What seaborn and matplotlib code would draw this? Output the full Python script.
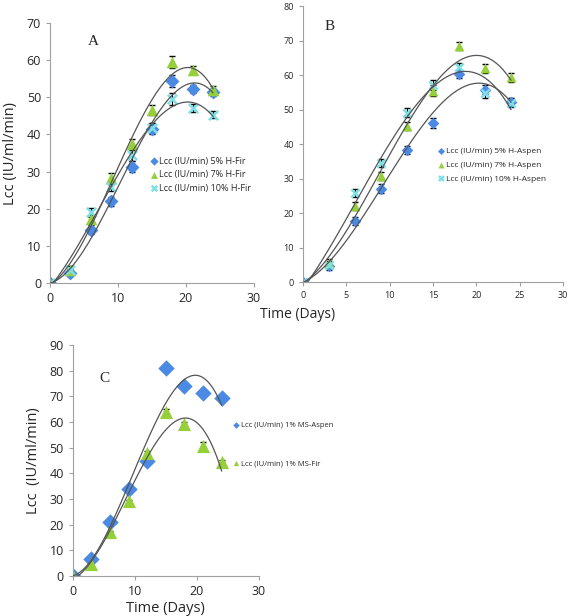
import numpy as np
import pandas as pd
import matplotlib
matplotlib.use("Agg")
import matplotlib.pyplot as plt
import seaborn as sns

sns.set_style("white")
plt.rcParams['font.family'] = ['Open Sans', 'DejaVu Sans']

# Данные (дни и активность Lcc)
days = [0, 3, 6, 9, 12, 15, 18, 21, 24]

# Панель A: H-Fir
a_5 = [0, 2.8, 14.4, 22.0, 31.3, 41.6, 54.4, 52.2, 51.3]
a_7 = [0, 3.5, 17.1, 28.4, 37.4, 46.6, 59.4, 57.4, 52.0]
a_10 = [0, 3.5, 19.1, 25.9, 34.4, 41.7, 49.5, 47.1, 45.3]
a_err = [0.5, 1.0, 1.2, 1.2, 1.5, 1.4, 1.6, 1.0, 1.0]

# Панель B: H-Aspen
b_5 = [0, 4.6, 17.6, 27.1, 38.3, 46.0, 60.3, 55.7, 52.2]
b_7 = [0, 5.6, 22.0, 30.8, 45.2, 55.5, 68.4, 62.0, 59.3]
b_10 = [0, 5.0, 25.9, 34.4, 49.1, 57.2, 62.4, 54.7, 52.0]
b_err = [0.5, 1.0, 1.2, 1.2, 1.2, 1.5, 1.2, 1.3, 1.2]

# Панель C: MS
c_aspen = [0, 6.5, 21.0, 33.8, 44.9, 81.0, 74.0, 71.4, 69.2]
c_fir = [0, 4.7, 17.3, 29.1, 48.1, 64.0, 59.2, 50.8, 44.3]
c_err_aspen = [0.2, 0.3, 0.3, 0.3, 0.3, 0.3, 0.3, 0.3, 0.3]
c_err_fir = [0.2, 0.3, 0.3, 0.5, 0.8, 1.2, 1.0, 1.4, 1.0]

blue = '#4a89e4'
green = '#95d03a'
cyan = '#7fdfe6'
curve = '#555555'

fig = plt.figure(figsize=(5.69, 6.16), dpi=100)
axA = fig.add_axes([0.088, 0.5406, 0.358, 0.422])
axB = fig.add_axes([0.5325, 0.5422, 0.457, 0.448])
axC = fig.add_axes([0.128, 0.0649, 0.327, 0.375])


def draw_series(ax, y, err, color, marker, label, size, cap=2.5):
    df = pd.DataFrame({'x': days, 'y': y})
    ax.errorbar(days, y, yerr=err, fmt='none', ecolor='black',
                elinewidth=0.8, capsize=cap, capthick=1.0, zorder=1)
    if marker == 'x':
        sns.scatterplot(data=df, x='x', y='y', ax=ax, color=color,
                        marker='x', s=size, linewidth=1.8, label=label,
                        zorder=2)
    else:
        sns.scatterplot(data=df, x='x', y='y', ax=ax, color=color,
                        marker=marker, s=size, edgecolor=color, linewidth=0,
                        label=label, zorder=2)
    sns.regplot(data=df, x='x', y='y', ax=ax, order=3, ci=None, scatter=False,
                truncate=True, line_kws={'color': curve, 'lw': 0.9, 'zorder': 4})


def style_axes(ax, xmax, xstep, ymax, ystep, fs):
    ax.set_xlim(0, xmax)
    ax.set_ylim(0, ymax)
    ax.set_xticks(np.arange(0, xmax + 1, xstep))
    ax.set_yticks(np.arange(0, ymax + 1, ystep))
    for s in ['top', 'right']:
        ax.spines[s].set_visible(False)
    for s in ['left', 'bottom']:
        ax.spines[s].set_color('#a0a0a0')
        ax.spines[s].set_linewidth(0.8)
    ax.tick_params(axis='both', which='both', length=3, width=0.8,
                   color='#a0a0a0', labelsize=fs, direction='out',
                   bottom=True, left=True)
    ax.set_xlabel('')
    ax.set_ylabel('')
    ax.margins(0)


# Панель A
draw_series(axA, a_5, a_err, blue, 'D', 'Lcc (IU/min) 5% H-Fir', 50)
draw_series(axA, a_7, a_err, green, '^', 'Lcc (IU/min) 7% H-Fir', 70)
draw_series(axA, a_10, a_err, cyan, 'x', 'Lcc (IU/min) 10% H-Fir', 45)
style_axes(axA, 30, 10, 70, 10, 9)
axA.set_ylabel('Lcc (IU/ml/min)', fontsize=10.5, labelpad=6)
axA.text(5.5, 64, 'A', family='Liberation Serif', fontsize=11)
axA.legend(loc='upper left', bbox_to_anchor=(0.47, 0.5), frameon=False,
           fontsize=6.5, handletextpad=0.1, markerscale=0.6,
           borderaxespad=0, labelspacing=0.5, handlelength=1)

# Панель B
draw_series(axB, b_5, b_err, blue, 'D', 'Lcc (IU/min) 5% H-Aspen', 35)
draw_series(axB, b_7, b_err, green, '^', 'Lcc (IU/min) 7% H-Aspen', 50)
draw_series(axB, b_10, b_err, cyan, 'x', 'Lcc (IU/min) 10% H-Aspen', 35)
style_axes(axB, 30, 5, 80, 10, 6.5)
axB.text(2.5, 73, 'B', family='Liberation Serif', fontsize=11)
axB.legend(loc='upper left', bbox_to_anchor=(0.5, 0.5), frameon=False,
           fontsize=6, handletextpad=0.1, markerscale=0.6,
           borderaxespad=0, labelspacing=0.7, handlelength=1)

fig.text(0.523, 0.49, 'Time (Days)', ha='center', va='center', fontsize=10)

# Панель C
draw_series(axC, c_aspen, c_err_aspen, blue, 'D', 'Lcc (IU/min) 1% MS-Aspen', 70, cap=2)
draw_series(axC, c_fir, c_err_fir, green, '^', 'Lcc (IU/min) 1% MS-Fir', 90, cap=2)
style_axes(axC, 30, 10, 90, 10, 9)
axC.set_ylabel('Lcc  (IU/ml/min)', fontsize=10.5, labelpad=6)
axC.set_xlabel('Time (Days)', fontsize=10.5, labelpad=2)
axC.text(4.3, 75.5, 'C', family='Liberation Serif', fontsize=11)
axC.legend(loc='upper left', bbox_to_anchor=(0.84, 0.68), frameon=False,
           fontsize=5.5, handletextpad=0.1, markerscale=0.4,
           borderaxespad=0, labelspacing=4.0, handlelength=1)

fig.savefig('out.png', dpi=100)
